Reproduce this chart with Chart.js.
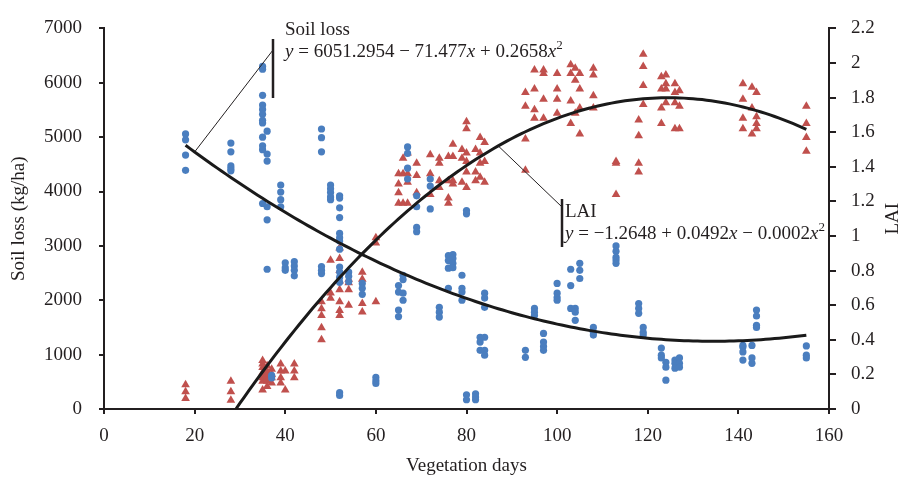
<!DOCTYPE html>
<html>
<head>
<meta charset="utf-8">
<script src="https://cdn.jsdelivr.net/npm/chart.js@4.4.0/dist/chart.umd.min.js"></script>
<style>
html, body { margin: 0; padding: 0; background: #fff; }
</style>
</head>
<body>
<canvas id="grafico-solo-lai" width="903" height="477"></canvas>
<script>
// vegetation days sampled (same days for both series)
var days = [18, 28, 35, 36, 37, 39, 40, 42, 48, 50, 52, 54, 57, 60, 65, 66, 67, 69, 72, 74, 76, 77, 79, 80,
            82, 83, 84, 93, 95, 97, 100, 103, 104, 105, 108, 113, 118, 119, 123, 124, 126, 127, 141, 143, 144, 155];

// soil loss (kg/ha), one list per day
var soilLoss = [
    [5060, 4950, 4670, 4390],
    [4890, 4730, 4470, 4420, 4380],
    [6300, 6250, 5770, 5590, 5510, 5420, 5310, 5260, 5000, 4840, 4770, 3780],
    [5110, 4690, 4560, 3720, 3480, 2570],
    [620, 570],
    [4120, 3990, 3850, 3720],
    [2690, 2600, 2550],
    [2710, 2630, 2550, 2450],
    [5150, 4990, 4730, 2620, 2550, 2490],
    [4120, 4050, 3980, 3900, 3850],
    [3920, 3880, 3700, 3520, 3230, 3150, 3090, 2940, 2610, 2520, 2420, 2330, 300, 250],
    [2520, 2440, 2340],
    [2310, 2220, 2110],
    [580, 520, 470],
    [2270, 2150, 1820, 1700],
    [2460, 2380, 2130, 2000],
    [4820, 4700, 4430, 4230],
    [3920, 3720, 3340, 3260],
    [4230, 4100, 3680],
    [1870, 1780, 1690],
    [2820, 2730, 2590, 2220],
    [2840, 2770, 2680, 2600],
    [2460, 2220, 2150, 2000],
    [3650, 3590, 260, 170],
    [280, 220, 170],
    [1320, 1230, 1080],
    [2130, 2040, 1870, 1320, 1080, 990],
    [1080, 950],
    [1850, 1780, 1720],
    [1390, 1230, 1150, 1080],
    [2310, 2130, 2050, 2000],
    [2570, 2270, 1850],
    [1850, 1780, 1630],
    [2680, 2550, 2400],
    [1500, 1410, 1360],
    [3000, 2900, 2790, 2740, 2680],
    [1940, 1850, 1760],
    [1500, 1410, 1360],
    [1120, 990, 940],
    [860, 770, 530],
    [900, 840, 750],
    [940, 840, 770],
    [1170, 1140, 1050, 900],
    [1170, 940, 840],
    [1820, 1710, 1540, 1500],
    [1160, 990, 940]
];

// leaf area index, one list per day
var laiValues = [
    [0.14, 0.10, 0.06],
    [0.16, 0.10, 0.05],
    [0.28, 0.26, 0.24, 0.21, 0.18, 0.16, 0.11],
    [0.25, 0.22, 0.20, 0.18, 0.16, 0.13],
    [0.23, 0.20, 0.18, 0.15],
    [0.26, 0.22, 0.18, 0.15],
    [0.22, 0.11],
    [0.26, 0.22, 0.18],
    [0.62, 0.58, 0.54, 0.47, 0.40],
    [0.86, 0.67, 0.64],
    [0.93, 0.87, 0.80, 0.74, 0.69, 0.62, 0.57, 0.54],
    [0.75, 0.73, 0.69, 0.60],
    [0.79, 0.75, 0.61, 0.56],
    [0.99, 0.96, 0.62],
    [1.36, 1.30, 1.25, 1.19],
    [1.45, 1.36, 1.19],
    [1.48, 1.36, 1.31, 1.19],
    [1.42, 1.35, 1.25],
    [1.47, 1.36, 1.24],
    [1.45, 1.42, 1.32, 1.28],
    [1.46, 1.32, 1.22, 1.19],
    [1.53, 1.46, 1.32, 1.30],
    [1.50, 1.45, 1.31],
    [1.66, 1.62, 1.48, 1.43, 1.37, 1.28],
    [1.50, 1.37, 1.32],
    [1.57, 1.48, 1.42, 1.34],
    [1.54, 1.43, 1.31],
    [1.83, 1.75, 1.56, 1.38],
    [1.96, 1.85, 1.73, 1.68],
    [1.96, 1.94, 1.79, 1.68],
    [1.94, 1.85, 1.79, 1.71],
    [1.99, 1.94, 1.78, 1.65],
    [1.97, 1.90, 1.71],
    [1.94, 1.85, 1.74, 1.59],
    [1.97, 1.93, 1.81, 1.74],
    [1.43, 1.42, 1.24],
    [1.67, 1.58, 1.42, 1.37],
    [2.05, 1.98, 1.87, 1.76],
    [1.92, 1.85, 1.74, 1.65],
    [1.93, 1.88, 1.85, 1.77],
    [1.88, 1.83, 1.77, 1.62],
    [1.84, 1.75, 1.62],
    [1.88, 1.79, 1.68, 1.62],
    [1.86, 1.74, 1.59],
    [1.83, 1.69, 1.65, 1.62],
    [1.75, 1.65, 1.57, 1.49]
];

// quadratic trend coefficients [c0, c1, c2] (LAI c2 unrounded, prints as -0.0002)
var soilFit = [6051.2954, -71.477, 0.2658];
var laiFit = [-1.2648, 0.0492, -0.0001975];
var fitRange = [18, 155];
// days where the equation labels hook onto the curves
var leaderDays = [20, 87];

var texto = '#231f20';
var serif = "'Liberation Serif', 'Times New Roman', serif";

function polyAt(c, x) { return c[0] + c[1] * x + c[2] * x * x; }

function pontos(valores) {
    var out = [];
    days.forEach(function(d, i) {
        valores[i].forEach(function(v) { out.push({x: d, y: v}); });
    });
    return out;
}

function curva(c, desdeZero) {
    var ini = fitRange[0];
    var out = [];
    if (desdeZero) {
        // first crossing of zero
        var disc = c[1] * c[1] - 4 * c[2] * c[0];
        ini = (-c[1] + Math.sqrt(disc)) / (2 * c[2]);
        out.push({x: ini, y: 0});
        ini = Math.ceil(ini);
    }
    for (var d = ini; d <= fitRange[1]; d++) out.push({x: d, y: polyAt(c, d)});
    return out;
}

function desenhaEquacao(ctx, partes, x, base) {
    partes.forEach(function(p) {
        if (p.sup) {
            ctx.font = '13px ' + serif;
            ctx.fillText(p.t, x, base - 8);
        } else {
            ctx.font = (p.it ? 'italic ' : '') + '19px ' + serif;
            ctx.fillText(p.t, x, base);
        }
        x += ctx.measureText(p.t).width;
    });
}

var anotacoes = {
    id: 'anotacoes',
    afterDraw: function(chart) {
        var ctx = chart.ctx;
        var sx = chart.scales.x, sy = chart.scales.y, sy1 = chart.scales.y1;
        ctx.save();
        ctx.strokeStyle = texto;
        ctx.fillStyle = texto;
        ctx.textAlign = 'left';
        ctx.textBaseline = 'alphabetic';

        // soil loss label
        ctx.lineWidth = 1;
        ctx.beginPath();
        ctx.moveTo(273, 50);
        ctx.lineTo(sx.getPixelForValue(leaderDays[0]), sy.getPixelForValue(polyAt(soilFit, leaderDays[0])));
        ctx.stroke();
        ctx.lineWidth = 2.5;
        ctx.beginPath();
        ctx.moveTo(273, 39);
        ctx.lineTo(273, 98);
        ctx.stroke();
        ctx.font = '19px ' + serif;
        ctx.fillText('Soil loss', 285, 35);
        desenhaEquacao(ctx, [
            {t: 'y', it: true}, {t: ' = 6051.2954 \u2212 71.477'}, {t: 'x', it: true},
            {t: ' + 0.2658'}, {t: 'x', it: true}, {t: '2', sup: true}
        ], 285, 57);

        // LAI label
        ctx.lineWidth = 1;
        ctx.beginPath();
        ctx.moveTo(562, 207);
        ctx.lineTo(sx.getPixelForValue(leaderDays[1]), sy1.getPixelForValue(polyAt(laiFit, leaderDays[1])));
        ctx.stroke();
        ctx.lineWidth = 2.5;
        ctx.beginPath();
        ctx.moveTo(562, 199);
        ctx.lineTo(562, 247);
        ctx.stroke();
        ctx.font = '19px ' + serif;
        ctx.fillText('LAI', 565, 217);
        desenhaEquacao(ctx, [
            {t: 'y', it: true}, {t: ' = \u22121.2648 + 0.0492'}, {t: 'x', it: true},
            {t: ' \u2212 0.0002'}, {t: 'x', it: true}, {t: '2', sup: true}
        ], 565, 239);

        // right axis title
        ctx.font = '19px ' + serif;
        ctx.textAlign = 'center';
        ctx.textBaseline = 'middle';
        ctx.translate(893, (chart.chartArea.top + chart.chartArea.bottom) / 2);
        ctx.rotate(-Math.PI / 2);
        ctx.fillText('LAI', 0, 0);
        ctx.restore();
    }
};

var eixo = {
    grid: {display: true, drawOnChartArea: false, drawTicks: true, tickLength: 5, color: texto, lineWidth: 2},
    border: {display: true, color: texto, width: 2}
};

var ctx = document.getElementById('grafico-solo-lai').getContext('2d');
var config = {
    type: 'scatter',
    data: {
        datasets: [{
            label: 'Soil loss fit',
            data: curva(soilFit, false),
            showLine: true,
            borderColor: '#1a1a1a',
            borderWidth: 3,
            pointRadius: 0,
            yAxisID: 'y',
            order: 0
        }, {
            label: 'LAI fit',
            data: curva(laiFit, true),
            showLine: true,
            borderColor: '#1a1a1a',
            borderWidth: 3,
            pointRadius: 0,
            yAxisID: 'y1',
            order: 0
        }, {
            label: 'Soil loss',
            data: pontos(soilLoss),
            backgroundColor: '#4a7ebf',
            borderWidth: 0,
            pointRadius: 3.6,
            yAxisID: 'y',
            order: 1
        }, {
            label: 'LAI',
            data: pontos(laiValues),
            pointStyle: 'triangle',
            backgroundColor: '#c0504d',
            borderWidth: 0,
            pointRadius: 5,
            yAxisID: 'y1',
            order: 2
        }]
    },
    options: {
        responsive: false,
        animation: false,
        layout: {padding: {top: 27, right: 0, bottom: 0, left: 0}},
        plugins: {legend: {display: false}, tooltip: {enabled: false}},
        scales: {
            x: Object.assign({}, eixo, {
                type: 'linear', position: 'bottom', min: 0, max: 160,
                ticks: {stepSize: 20, padding: 11, color: texto, font: {family: serif, size: 19},
                        callback: function(v) { return String(v); }},
                title: {display: true, text: 'Vegetation days', color: texto, font: {family: serif, size: 19},
                        padding: {top: 0, bottom: 0}},
                afterFit: function(s) { s.height = 68; }
            }),
            y: Object.assign({}, eixo, {
                type: 'linear', position: 'left', min: 0, max: 7000,
                ticks: {stepSize: 1000, padding: 17, color: texto, font: {family: serif, size: 19},
                        callback: function(v) { return String(v); }},
                title: {display: true, text: 'Soil loss (kg/ha)', color: texto, font: {family: serif, size: 19},
                        padding: {top: 8, bottom: 0}},
                afterFit: function(s) { s.width = 104; }
            }),
            y1: Object.assign({}, eixo, {
                type: 'linear', position: 'right', min: 0, max: 2.2,
                grid: {display: true, drawOnChartArea: false, drawTicks: true, tickLength: 7, color: texto, lineWidth: 2},
                ticks: {stepSize: 0.2, padding: 15, color: texto, font: {family: serif, size: 19},
                        callback: function(v) { return String(+v.toFixed(1)); }},
                afterFit: function(s) { s.width = 74; }
            })
        }
    },
    plugins: [anotacoes]
};
var grafico = new Chart(ctx, config);
</script>
</body>
</html>
